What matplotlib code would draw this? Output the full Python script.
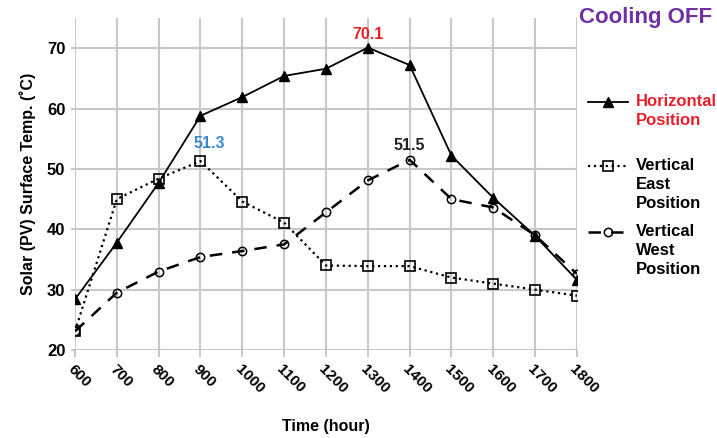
import matplotlib.pyplot as plt
from matplotlib.lines import Line2D

plt.rcParams['font.family'] = ['Liberation Sans', 'DejaVu Sans']
plt.rcParams['font.weight'] = 'bold'
plt.rcParams['axes.labelweight'] = 'bold'

hours = [600, 700, 800, 900, 1000, 1100, 1200, 1300, 1400, 1500, 1600, 1700, 1800]
horizontal = [28.4, 37.8, 47.7, 58.8, 61.9, 65.4, 66.6, 70.1, 67.2, 52.2, 45.2, 38.9, 31.6]
east = [23.1, 45.0, 48.4, 51.3, 44.6, 41.1, 34.0, 33.9, 33.9, 32.0, 31.0, 30.0, 29.0]
west = [23.1, 29.5, 33.0, 35.4, 36.4, 37.5, 42.8, 48.1, 51.5, 45.0, 43.6, 39.0, 32.6]
yticks = [20, 30, 40, 50, 60, 70]

fig = plt.figure(figsize=(7.17, 4.38), dpi=100)
ax = fig.add_axes([0.1046, 0.2009, 0.7001, 0.758])

styles = [
    dict(c="k", lw=1.3, marker="^", ms=6.5),
    dict(c="k", lw=1.6, ls=":", marker="s", ms=6.5, mfc="none", mew=1.2),
    dict(c="k", lw=1.8, ls=(0, (5, 4)), marker="o", ms=6, mfc="none", mew=1.1),
]
ax.plot(hours, horizontal, **styles[0])
ax.plot(hours, east, **styles[1])
ax.plot(hours, west, **styles[2])

ax.set_xlim(600, 1800)
ax.set_ylim(20, 75)
ax.set_xticks(hours)
ax.set_xticklabels([str(h) for h in hours], rotation=-45, ha="left", va="top",
                   rotation_mode="anchor", fontsize=11)
ax.set_yticks(yticks)
ax.set_yticklabels([str(v) for v in yticks], fontsize=12)
ax.grid(True, color="#c8c8c8", lw=1.5)
ax.set_axisbelow(True)
for s in ax.spines.values():
    s.set_visible(False)
ax.tick_params(axis="x", length=5, color="#c8c8c8", width=1.5, pad=4)
ax.tick_params(axis="y", length=3, color="#c8c8c8", width=1.5, pad=4)

ax.set_xlabel("Time (hour)", fontsize=11.5, labelpad=16)
ax.set_ylabel("Solar (PV) Surface Temp. (˚C)", fontsize=11.5, labelpad=8)

ax.annotate("70.1", (1300, 70.1), xytext=(0, 4), textcoords="offset points",
            ha="center", va="bottom", color="#e8202a", fontsize=11.5)
ax.annotate("51.3", (900, 51.3), xytext=(6, 7), textcoords="offset points",
            ha="center", va="bottom", color="#3a88cf", fontsize=11.5)
ax.annotate("51.5", (1400, 51.5), xytext=(0, 5), textcoords="offset points",
            ha="center", va="bottom", color="#222222", fontsize=11.5)

fig.text(579 / 717, 1 - 17 / 438, "Cooling OFF", ha="left", va="center",
         color="#7030a0", fontsize=16, fontweight="bold")

# legend drawn by hand: handle sits on the first text line
labels = ["Horizontal\nPosition", "Vertical\nEast\nPosition", "Vertical\nWest\nPosition"]
colors = ["#e8202a", "k", "k"]
rows = [102, 166, 232]
for st, lab, col, row in zip(styles, labels, colors, rows):
    y = 1 - row / 438
    fig.add_artist(Line2D([588 / 717, 608 / 717, 628 / 717], [y, y, y],
                          markevery=[1], transform=fig.transFigure, **st))
    fig.text(636 / 717, 1 - (row - 8) / 438, lab, ha="left", va="top", color=col,
             fontsize=12, linespacing=1.35, transform=fig.transFigure)

plt.savefig("out.png")
